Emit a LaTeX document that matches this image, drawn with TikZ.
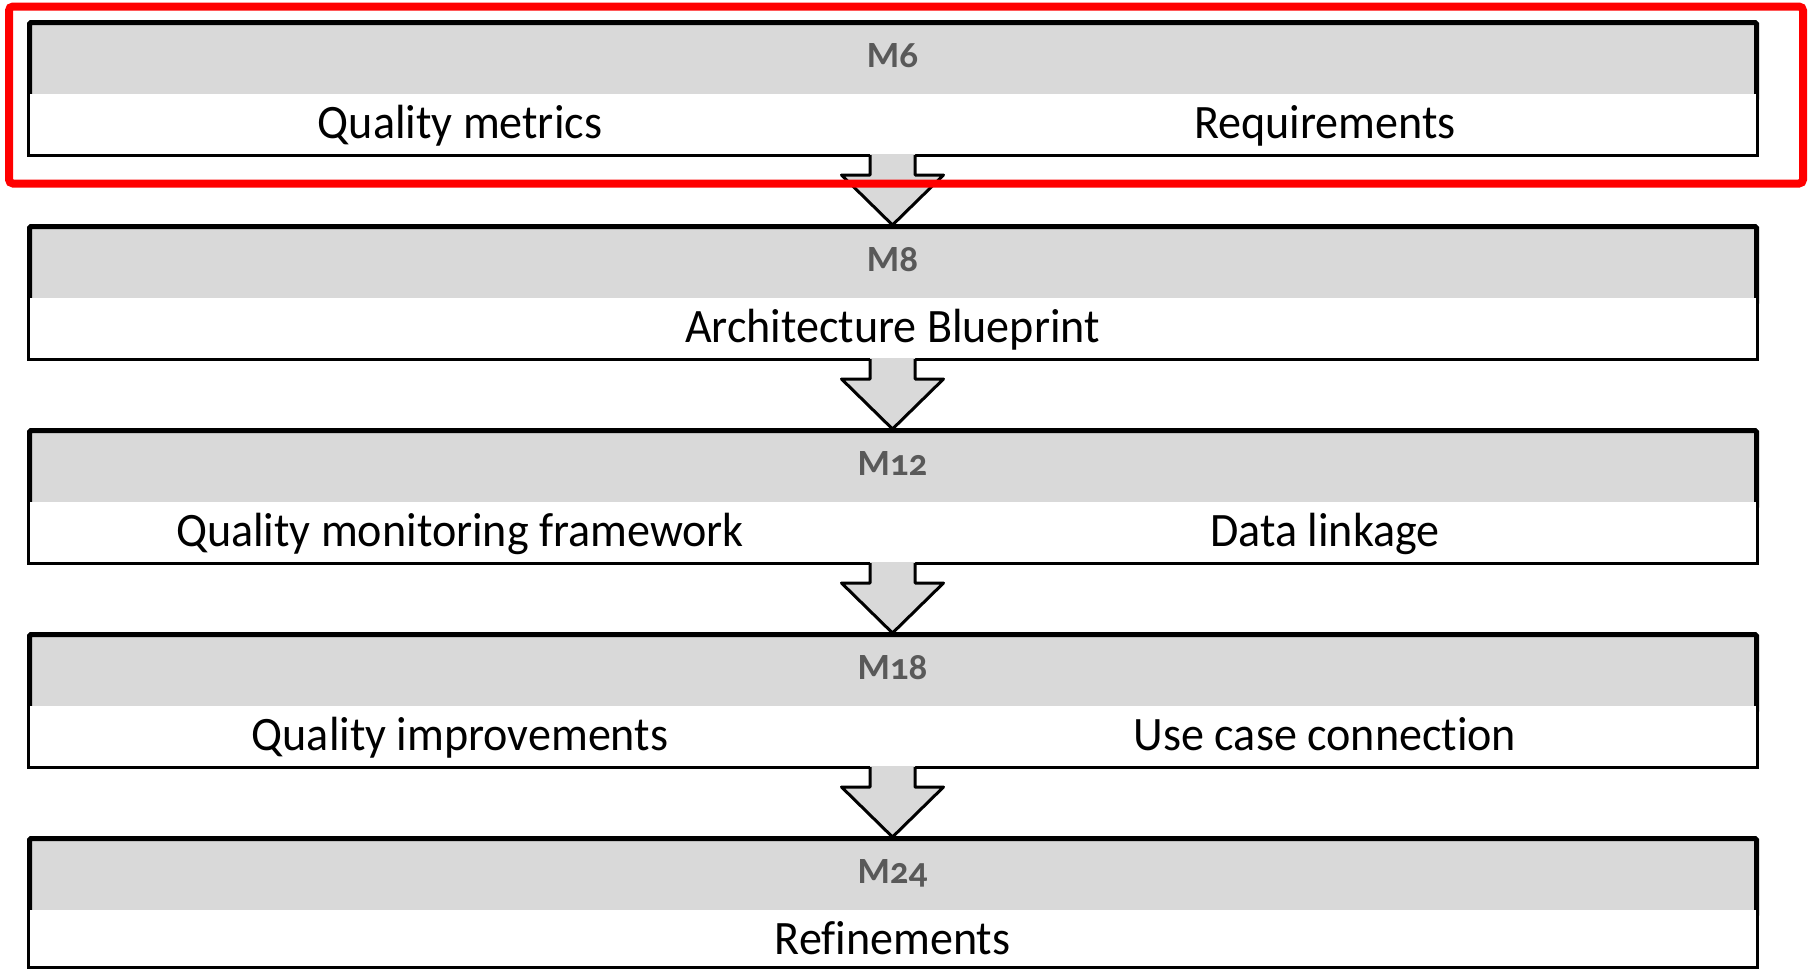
\documentclass[tikz,border=0pt]{standalone}
\usepackage{fontspec}
\setmainfont{Carlito}
\newfontfamily\itemfont[FakeStretch=0.96,Ligatures=NoCommon]{Carlito}
\newfontfamily\labfont[Numbers=OldStyle]{Carlito}
\definecolor{bandgray}{HTML}{D9D9D9}
\definecolor{labelgray}{HTML}{595959}
\tikzset{
  graypart/.style={fill=bandgray, draw=black, line width=5pt, rounded corners=1.5pt},
  whitepart/.style={fill=white},
  whiteedge/.style={draw=black, line width=2.8pt},
  mlabel/.style={font=\labfont\bfseries\fontsize{37}{40}\selectfont, text=labelgray, anchor=base, inner sep=0pt},
  itemtext/.style={font=\itemfont\fontsize{48}{52}\selectfont, anchor=base, inner sep=0pt},
  arrowbody/.style={fill=bandgray},
  arrowedge/.style={draw=black, line width=3pt, line join=round},
  focus/.style={draw=red, line width=8pt, rounded corners=4pt}
}
\begin{document}
\begin{tikzpicture}[x=1pt,y=-1pt]
\useasboundingbox (0,0) rectangle (1811,970);
% boxes
\foreach \k/\yt/\yb/\lab in {0/20/157/M6,1/224/361/M8,2/428/565/M12,3/632/769/M18,4/836/969/M24} {
  \draw[graypart] (29.5,\yt+2.5) rectangle (1756.5,\yt+80);
  \fill[whitepart] (27,\yt+74) rectangle (1759,\yb);
  \draw[whiteedge] (28.4,\yt+74) -- (28.4,\yb-1.4) -- (1757.6,\yb-1.4) -- (1757.6,\yt+74);
  \node[mlabel] (lab\k) at (892.5,\yt+47) {\lab};
  \coordinate (bot\k) at (892.5,\yb);
}
% texts
\node[itemtext] (t0a) at (460,138) {Quality metrics};
\node[itemtext] (t0b) at (1325,138) {Requirements};
\node[itemtext] (t1) at (892.5,342) {Architecture Blueprint};
\node[itemtext] (t2a) at (460,546) {Quality monitoring framework};
\node[itemtext] (t2b) at (1325,546) {Data linkage};
\node[itemtext] (t3a) at (460,750) {Quality improvements};
\node[itemtext] (t3b) at (1325,750) {Use case connection};
\node[itemtext] (t4) at (892.5,954) {Refinements};
% block arrows
\foreach \k in {0,1,2,3} {
  \fill[arrowbody] ([xshift=-22.5pt,yshift=3pt]bot\k) -- ([xshift=-22.5pt,yshift=-18pt]bot\k)
     -- ([xshift=-51pt,yshift=-18pt]bot\k) -- ([yshift=-68pt]bot\k)
     -- ([xshift=51pt,yshift=-18pt]bot\k) -- ([xshift=22.5pt,yshift=-18pt]bot\k)
     -- ([xshift=22.5pt,yshift=3pt]bot\k) -- cycle;
  \draw[arrowedge] ([xshift=-22.5pt,yshift=2pt]bot\k) -- ([xshift=-22.5pt,yshift=-18pt]bot\k)
     -- ([xshift=-51pt,yshift=-18pt]bot\k) -- ([yshift=-68pt]bot\k)
     -- ([xshift=51pt,yshift=-18pt]bot\k) -- ([xshift=22.5pt,yshift=-18pt]bot\k)
     -- ([xshift=22.5pt,yshift=2pt]bot\k);
}
% red highlight
\draw[focus] (9,6.5) rectangle (1803,183.5);
\end{tikzpicture}
\end{document}
